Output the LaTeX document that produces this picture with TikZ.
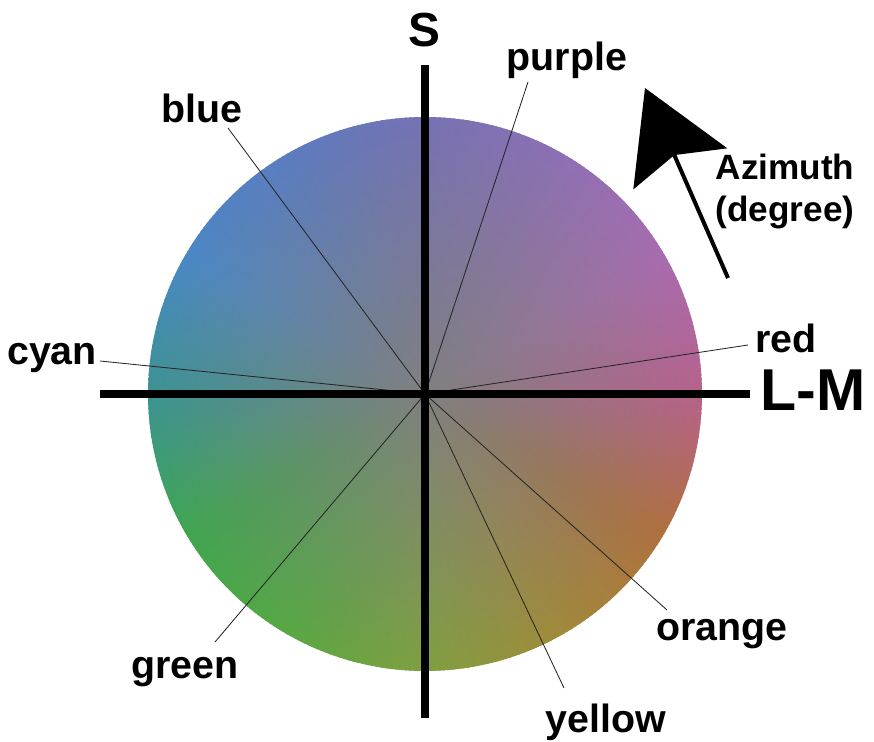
\documentclass[tikz,border=0pt]{standalone}
\usepackage{fontspec}
\setmainfont{Liberation Sans}
\usepackage{tikz}
\usetikzlibrary{arrows.meta,fadings}
\definecolor{hue0}{HTML}{B8628C}
\definecolor{hue30}{HTML}{A86CB0}
\definecolor{hue60}{HTML}{8E70B4}
\definecolor{hue90}{HTML}{7672B4}
\definecolor{hue120}{HTML}{5C7CC0}
\definecolor{hue150}{HTML}{4A88C6}
\definecolor{hue180}{HTML}{3C9494}
\definecolor{hue210}{HTML}{40A650}
\definecolor{hue240}{HTML}{58A844}
\definecolor{hue270}{HTML}{80A040}
\definecolor{hue300}{HTML}{A28A3A}
\definecolor{hue330}{HTML}{B0703E}
\definecolor{centergray}{HTML}{808080}
\tikzfading[name=centerfade, inner color=transparent!0, outer color=transparent!100]

\begin{document}
\begin{tikzpicture}[x=0.025cm, y=0.025cm,
    lbl/.style={font=\fontsize{28}{30}\selectfont\bfseries, inner sep=0, anchor=base},
    pointer/.style={line width=0.6pt, black!85},
    axisline/.style={line width=0.2cm}]
\useasboundingbox (-425,-348) rectangle (449,394);

% Hue wheel
\foreach \a/\ca/\cb in {0/hue0/hue30, 30/hue30/hue60, 60/hue60/hue90, 90/hue90/hue120,
    120/hue120/hue150, 150/hue150/hue180, 180/hue180/hue210, 210/hue210/hue240,
    240/hue240/hue270, 270/hue270/hue300, 300/hue300/hue330, 330/hue330/hue0}
  \foreach \t in {0,...,29} {
    \pgfmathtruncatemacro\p{100-\t*10/3}
    \fill[\ca!\p!\cb] (0,0) -- ({\a+\t-0.3}:277)
      arc[start angle={\a+\t-0.3}, end angle={\a+\t+1.3}, radius=277] -- cycle;
  }

% Grey centre
\fill[centergray, path fading=centerfade] (0,0) circle (277);

\coordinate (o) at (0,0);

% Labels
\node[lbl] (purple) at (142,323) {purple};
\node[lbl] (blue) at (-223,271) {blue};
\node[lbl] (cyan) at (-373,29) {cyan};
\node[lbl] (red) at (361,41) {red};
\node[lbl] (orange) at (297,-246) {orange};
\node[lbl] (yellow) at (181,-338) {yellow};
\node[lbl] (green) at (-240,-284) {green};
\node[lbl, font=\fontsize{34}{36}\selectfont\bfseries] (s) at (-1,347) {S};
\node[lbl, font=\fontsize{42}{44}\selectfont\bfseries, anchor=west] (lm) at (335,4) {L-M};
\node[lbl, font=\fontsize{25}{30}\selectfont\bfseries, align=center] (azimuth) at (360,172) {Azimuth\\(degree)};

% Pointer lines
\coordinate (pu) at (103,312);
\coordinate (bl) at (-197,266);
\coordinate (cy) at (-325,33);
\coordinate (re) at (323,49);
\coordinate (or) at (242,-216);
\coordinate (ye) at (139,-294);
\coordinate (gr) at (-210,-248);
\foreach \e in {pu,bl,cy,re,or,ye,gr}
  \draw[pointer] (o) -- (\e);

% Axes
\coordinate (xl) at (-325,0);
\coordinate (xr) at (325,0);
\coordinate (yt) at (0,329);
\coordinate (yb) at (0,-324);
\draw[axisline] (xl) -- (xr);
\draw[axisline] (yt) -- (yb);

% Azimuth arrow
\coordinate (az1) at (303,116);
\coordinate (az2) at (220,306);
\draw[line width=0.1cm, -{Stealth[length=2.2cm, width=2.55cm, inset=0.37cm]}] (az1) -- (az2);
\end{tikzpicture}
\end{document}
